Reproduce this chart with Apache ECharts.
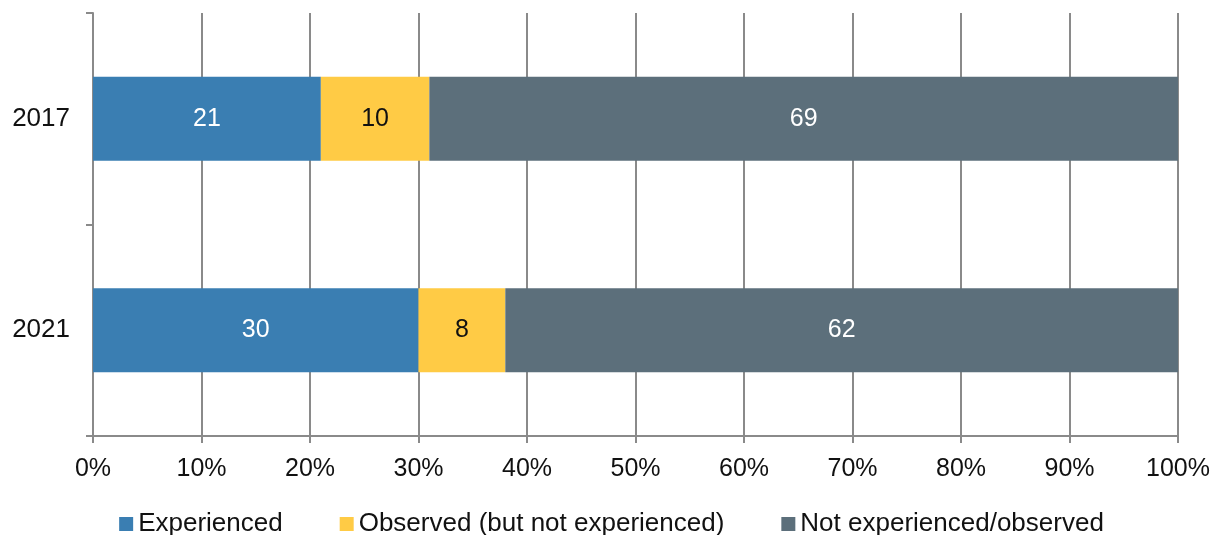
<!DOCTYPE html>
<html>
<head>
<meta charset="utf-8">
<script src="https://cdn.jsdelivr.net/npm/echarts@6/dist/echarts.min.js"></script>
<style>
  html, body { margin: 0; padding: 0; background: #fff; }
  #chart { width: 1223px; height: 535px; }
</style>
</head>
<body>
<div id="chart"></div>
<script>
// Survey years (top to bottom)
const years = ['2017', '2021'];

// Share of respondents, percent
const experienced = [21, 30];
const observedOnly = [10, 8];
const neither = [69, 62];

const seriesNames = ['Experienced', 'Observed (but not experienced)', 'Not experienced/observed'];
const seriesColors = ['#3A7EB2', '#FFCB45', '#5C6F7B'];
const labelColors = ['#ffffff', '#111111', '#ffffff'];

const FONT = '"Liberation Sans", Arial, sans-serif';
const AXIS_GREY = '#8a8a8a';

const chart = echarts.init(document.getElementById('chart'), null, { renderer: 'canvas' });

const makeSeries = (name, data, i) => ({
  name,
  type: 'bar',
  stack: 'total',
  data,
  barWidth: 84,
  itemStyle: { color: seriesColors[i] },
  label: {
    show: true,
    position: 'inside',
    color: labelColors[i],
    fontFamily: FONT,
    fontSize: 25,
    formatter: p => String(p.value)
  },
  emphasis: { disabled: true }
});

chart.setOption({
  animation: false,
  textStyle: { fontFamily: FONT },
  grid: { left: 93, right: 45, top: 13, bottom: 99, containLabel: false },
  legend: {
    top: 506,
    left: 'center',
    itemWidth: 14,
    itemHeight: 14,
    itemGap: 57,
    icon: 'rect',
    textStyle: { fontFamily: FONT, fontSize: 26, color: '#111' },
    data: seriesNames
  },
  xAxis: {
    type: 'value',
    min: 0,
    max: 100,
    interval: 10,
    axisLine: { show: true, lineStyle: { color: AXIS_GREY, width: 2 } },
    axisTick: { show: true, length: 7, lineStyle: { color: AXIS_GREY, width: 2 } },
    splitLine: { show: true, lineStyle: { color: AXIS_GREY, width: 2 } },
    axisLabel: {
      formatter: '{value}%',
      fontFamily: FONT,
      fontSize: 25,
      color: '#111',
      margin: 21
    }
  },
  yAxis: {
    type: 'category',
    data: years,
    inverse: true,
    boundaryGap: true,
    axisLine: { show: true, lineStyle: { color: AXIS_GREY, width: 2 } },
    axisTick: { show: true, length: 7, lineStyle: { color: AXIS_GREY, width: 2 } },
    axisLabel: { fontFamily: FONT, fontSize: 26, color: '#111', margin: 23 },
    splitLine: { show: false }
  },
  series: [
    makeSeries(seriesNames[0], experienced, 0),
    makeSeries(seriesNames[1], observedOnly, 1),
    makeSeries(seriesNames[2], neither, 2)
  ]
});
</script>
</body>
</html>
